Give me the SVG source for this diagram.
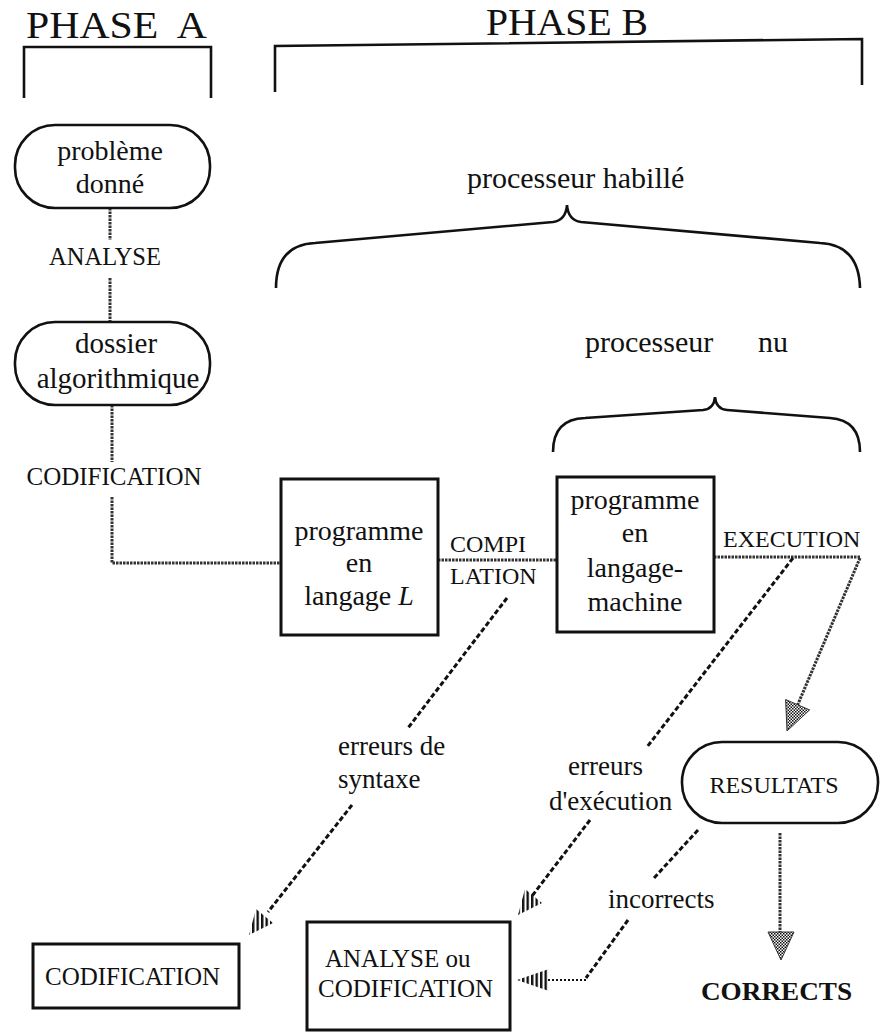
<svg xmlns="http://www.w3.org/2000/svg" width="887" height="1034" viewBox="0 0 887 1034">
<style>
.t{font-family:"Liberation Serif","Times New Roman",serif;fill:#111}
.box{fill:#fff;stroke:#111;stroke-width:3}
.rbox{fill:#fff;stroke:#111;stroke-width:2.6}
.br{fill:none;stroke:#111;stroke-width:2.6}
.chain{fill:none;stroke:#333;stroke-width:3;stroke-dasharray:2.5 1}
.hatch{fill:none;stroke:#111;stroke-width:3;stroke-dasharray:5 2.5}
.dots{fill:none;stroke:#111;stroke-width:2;stroke-dasharray:2 2}
</style>
<defs>
<pattern id="chk" width="3" height="3" patternUnits="userSpaceOnUse"><rect width="3" height="3" fill="#fff"/><rect width="1.5" height="1.5" fill="#111"/><rect x="1.5" y="1.5" width="1.5" height="1.5" fill="#111"/></pattern>
<pattern id="vh" width="4.5" height="4" patternUnits="userSpaceOnUse"><rect width="2.4" height="4" fill="#111"/></pattern>
</defs>
<rect width="887" height="1034" fill="#fff"/>

<g id="phases">
<text class="t" x="26" y="38" font-size="38" textLength="181" lengthAdjust="spacingAndGlyphs" style="white-space:pre">PHASE  A</text>
<path class="br" d="M24,98 V47 H211 V98"/>
<text class="t" x="486" y="35" font-size="38" textLength="162" lengthAdjust="spacingAndGlyphs">PHASE B</text>
<path class="br" d="M275,92 V46 L862,39 V85"/>
</g>

<g id="braces">
<text class="t" x="467" y="188" font-size="30">processeur habillé</text>
<path class="br" d="M276,288 Q276,245 315,243 L553,222 Q566,220 567,205 Q568,220 581,222 L820,243 Q859,245 860,288"/>
<text class="t" x="585" y="352" font-size="30">processeur<tspan x="758">nu</tspan></text>
<path class="br" d="M553,452 Q553,419 585,418 L703,410 Q714,409 715,397 Q716,409 727,410 L830,418 Q860,420 860,452"/>
</g>

<g id="connectors">
<path class="chain" d="M110,208 V240"/>
<path class="chain" d="M110,278 V322"/>
<path class="chain" d="M112,405 V462"/>
<path class="chain" d="M112,497 V563 H281"/>
<path class="chain" d="M438,560 H557"/>
<path class="chain" d="M714,557 H860"/>
<path class="chain" d="M860,558 L797.6,705"/>
<polygon points="787,731 809.6,709.9 785.6,699.5" fill="url(#chk)" stroke="#333" stroke-width="1"/>
<path class="chain" d="M780,833 V934"/>
<polygon points="781,960 768,932 794,932" fill="url(#chk)" stroke="#333" stroke-width="1"/>
<path class="hatch" d="M507,598 L408,728"/>
<path class="hatch" d="M352,805 L268,912"/>
<polygon points="249,935 273,923 256,909" fill="url(#vh)"/>
<path class="hatch" d="M793,558 L647,747"/>
<path class="hatch" d="M590,820 L532,896"/>
<polygon points="518,915 542,903 525,889" fill="url(#vh)"/>
<path class="hatch" d="M698,830 L654,878"/>
<path class="hatch" d="M628,920 L586,978"/>
<path class="dots" d="M586,980 H548"/>
<polygon points="517,980 549,969 549,991" fill="url(#vh)"/>
<text class="t" x="450" y="552" font-size="24">COMPI</text>
<text class="t" x="450" y="584" font-size="24">LATION</text>
<text class="t" x="723" y="547" font-size="24">EXECUTION</text>
<text class="t" x="105" y="265" font-size="24.5" text-anchor="middle">ANALYSE</text>
<text class="t" x="114" y="485" font-size="25" text-anchor="middle">CODIFICATION</text>
<text class="t" x="338" y="755" font-size="27">erreurs de</text>
<text class="t" x="338" y="788" font-size="27">syntaxe</text>
<text class="t" x="568" y="775" font-size="27">erreurs</text>
<text class="t" x="549" y="810" font-size="27">d'exécution</text>
<text class="t" x="608" y="908" font-size="27">incorrects</text>
</g>

<g id="probleme">
<rect class="rbox" x="15" y="125" width="195" height="83" rx="40"/>
<text class="t" x="110" y="160" font-size="28" text-anchor="middle">problème</text>
<text class="t" x="110" y="193" font-size="28" text-anchor="middle">donné</text>
</g>

<g id="dossier">
<rect class="rbox" x="15" y="322" width="195" height="83" rx="40"/>
<text class="t" x="116" y="353" font-size="29" text-anchor="middle">dossier</text>
<text class="t" x="118" y="388" font-size="29" text-anchor="middle">algorithmique</text>
</g>

<g id="programmeL">
<rect class="box" x="281" y="479" width="157" height="156"/>
<text class="t" x="359" y="540" font-size="28" text-anchor="middle">programme</text>
<text class="t" x="359" y="572" font-size="28" text-anchor="middle">en</text>
<text class="t" x="359" y="605" font-size="28" text-anchor="middle">langage <tspan font-style="italic">L</tspan></text>
</g>

<g id="programmeMachine">
<rect class="box" x="557" y="477" width="157" height="155"/>
<text class="t" x="635" y="509" font-size="28" text-anchor="middle">programme</text>
<text class="t" x="635" y="542" font-size="28" text-anchor="middle">en</text>
<text class="t" x="635" y="577" font-size="28" text-anchor="middle">langage-</text>
<text class="t" x="635" y="611" font-size="28" text-anchor="middle">machine</text>
</g>

<g id="resultats">
<rect class="rbox" x="682" y="742" width="196" height="81" rx="40"/>
<text class="t" x="774" y="793" font-size="24" text-anchor="middle">RESULTATS</text>
</g>

<g id="corrects">
<text class="t" x="701" y="1000" font-size="26" font-weight="bold" textLength="151" lengthAdjust="spacingAndGlyphs">CORRECTS</text>
</g>

<g id="analyseCodif">
<rect class="box" x="307" y="922" width="203" height="108"/>
<text class="t" x="325" y="967" font-size="25">ANALYSE ou</text>
<text class="t" x="318" y="997" font-size="25">CODIFICATION</text>
</g>

<g id="codification">
<rect class="box" x="33" y="944" width="206" height="64"/>
<text class="t" x="45" y="985" font-size="25">CODIFICATION</text>
</g>
</svg>
